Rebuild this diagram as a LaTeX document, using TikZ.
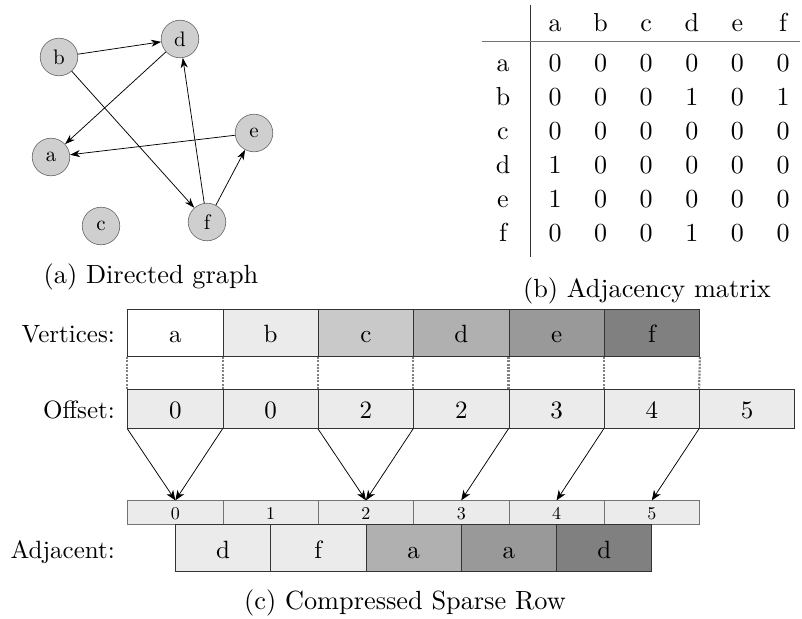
\documentclass[tikz,border=0pt]{standalone}
\usepackage{fontspec}
\setmainfont{lmroman10-regular}[Extension=.otf]
\usetikzlibrary{arrows.meta}
\newcommand\setfs[1]{\fontsize{#1}{#1}\selectfont}
\definecolor{nodegray}{gray}{0.81}
\definecolor{gA}{gray}{1.0}
\definecolor{gB}{gray}{0.92}
\definecolor{gC}{gray}{0.79}
\definecolor{gD}{gray}{0.69}
\definecolor{gE}{gray}{0.60}
\definecolor{gF}{gray}{0.50}
\begin{document}
\begin{tikzpicture}[x=1pt,y=-1pt,
  gnode/.style={circle, draw=black!60, fill=nodegray, line width=0.6pt, minimum size=37.6pt, inner sep=0pt, font=\setfs{21}},
  garr/.style={-{Stealth[length=10pt,width=7pt,inset=3pt]}, line width=0.75pt},
  carr/.style={-{Stealth[length=10pt,width=8pt,inset=3pt]}, line width=0.75pt},
  vcell/.style={draw=black!80, line width=0.8pt, minimum width=95.3pt, minimum height=47.4pt, inner sep=0pt, text height=18pt, text depth=0pt, font=\setfs{25}},
  ocell/.style={draw=black!80, fill=gB, line width=0.8pt, minimum width=95.3pt, minimum height=39.3pt, inner sep=0pt, text height=19pt, text depth=0pt, font=\setfs{25}},
  icell/.style={draw=black!55, fill=gB, line width=0.7pt, minimum width=95.3pt, minimum height=23.6pt, inner sep=0pt, text height=13pt, text depth=0pt, font=\setfs{18}},
  acell/.style={draw=black!80, line width=0.8pt, minimum width=95.3pt, minimum height=47.4pt, inner sep=0pt, text height=20pt, text depth=0pt, font=\setfs{25}},
  lbltxt/.style={anchor=base east, inner sep=0pt, font=\setfs{25}},
  mtxtxt/.style={anchor=base, inner sep=0pt, font=\setfs{26}},
  captxt/.style={inner sep=0pt, font=\setfs{26.3}},
  dotline/.style={line width=2.2pt, dash pattern=on 2pt off 1.3pt, black!50}
]
\useasboundingbox (0,0) rectangle (802,618);

% ---------- (a) directed graph ----------
\node[gnode] (a) at (51,157) {a};
\node[gnode] (b) at (59,57) {b};
\node[gnode] (c) at (101,226) {c};
\node[gnode] (d) at (180,39) {d};
\node[gnode] (e) at (254,133) {e};
\node[gnode] (f) at (207,222) {f};
\draw[garr] (b) -- (d);
\draw[garr] (b) -- (f);
\draw[garr] (d) -- (a);
\draw[garr] (e) -- (a);
\draw[garr] (f) -- (d);
\draw[garr] (f) -- (e);
\node[captxt] (capa) at (151,277) {(a) Directed graph};

% ---------- (b) adjacency matrix ----------
\draw[black!80, line width=1pt] (530,5) -- (530,257);
\draw[black!55, line width=1.6pt] (482,41.7) -- (800,41.7);
\foreach \l [count=\i] in {a,b,c,d,e,f}
  \node[mtxtxt] (h\i) at ({555+45.6*(\i-1)},31.7) {\l};
\foreach \l/\r [count=\j] in {a/{0,0,0,0,0,0},b/{0,0,0,1,0,1},c/{0,0,0,0,0,0},d/{1,0,0,0,0,0},e/{1,0,0,0,0,0},f/{0,0,0,1,0,0}}{
  \pgfmathsetmacro\yy{71.7+34*(\j-1)}
  \node[mtxtxt] (r\j) at (503,\yy) {\l};
  \foreach \v [count=\i] in \r
    \node[mtxtxt] (m\j-\i) at ({555+45.6*(\i-1)},\yy) {\v};
}
\node[captxt] (capb) at (647,291) {(b) Adjacency matrix};

% ---------- (c) CSR ----------
\node[lbltxt] (lv) at (115,342) {Vertices:};
\node[lbltxt] (lo) at (115,418.3) {Offset:};
\node[lbltxt] (la) at (115,558) {Adjacent:};

\foreach \l/\c [count=\i from 0] in {a/gA,b/gB,c/gC,d/gD,e/gE,f/gF}
  \node[vcell, fill=\c] (v\i) at ({175.35+95.3*\i},333) {\l};
\foreach \l [count=\i from 0] in {0,0,2,2,3,4,5}
  \node[ocell] (o\i) at ({175.35+95.3*\i},408.65) {\l};
\foreach \i in {0,...,5}
  \node[icell] (i\i) at ({175.35+95.3*\i},512.5) {\i};
\foreach \l/\c [count=\i from 0] in {d/gB,f/gB,a/gD,a/gE,d/gF}
  \node[acell, fill=\c] (x\i) at ({223+95.3*\i},548) {\l};

\foreach \i in {0,...,5}
  \draw[dotline] (v\i.south west) -- (o\i.north west);
\draw[dotline] (v5.south east) -- (o6.north west);

\draw[carr] (o0.south west) -- (i0.north);
\draw[carr] (o1.south west) -- (i0.north);
\draw[carr] (o2.south west) -- (i2.north);
\draw[carr] (o3.south west) -- (i2.north);
\draw[carr] (o4.south west) -- (i3.north);
\draw[carr] (o5.south west) -- (i4.north);
\draw[carr] (o6.south west) -- (i5.north);

\node[captxt] (capc) at (405,603) {(c) Compressed Sparse Row};
\end{tikzpicture}
\end{document}
